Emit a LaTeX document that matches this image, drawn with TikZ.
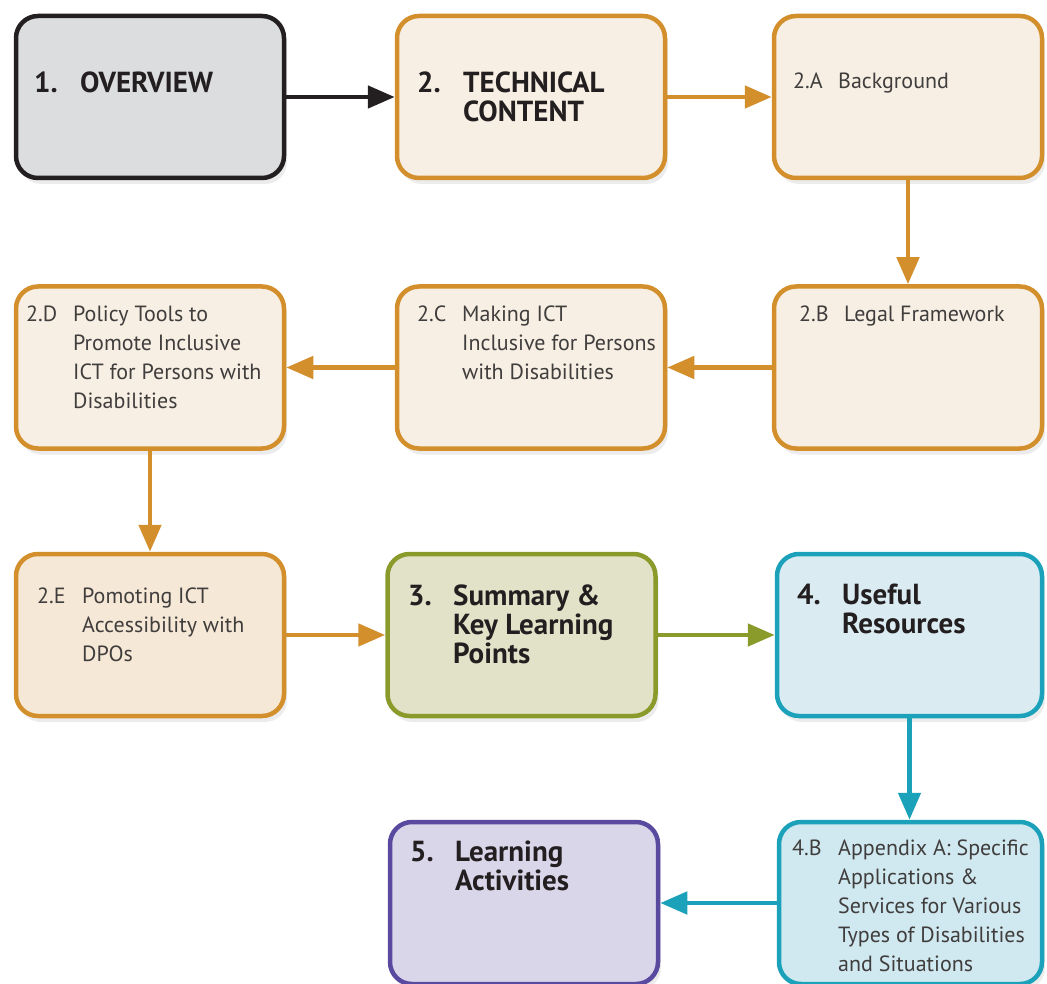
\documentclass[tikz,border=0pt]{standalone}
\usepackage{fontspec}
\setmainfont{PT Sans}
\usetikzlibrary{arrows.meta,shadows}
\definecolor{ink}{HTML}{231F20}
\definecolor{subink}{HTML}{403D3D}
\definecolor{ovfill}{HTML}{DCDDDF}
\definecolor{ordraw}{HTML}{D38F2C}
\definecolor{orfill}{HTML}{F7EFE3}
\definecolor{orfillb}{HTML}{F6E8D6}
\definecolor{grdraw}{HTML}{8A9A2B}
\definecolor{grfill}{HTML}{E1E2C8}
\definecolor{tedraw}{HTML}{1BA2BA}
\definecolor{tefill}{HTML}{DAEBF2}
\definecolor{tefillb}{HTML}{D0E8EF}
\definecolor{pudraw}{HTML}{5A4A9F}
\definecolor{pufill}{HTML}{DAD6EA}
\newcommand\boxtext[3]{\parbox[t]{300pt}{\hangindent=#1\hangafter=1\noindent\makebox[#1][l]{#2}#3}}
\tikzset{
  box/.style={draw, rounded corners=22pt, line width=4.5pt, minimum width=268pt,
    minimum height=162pt, inner sep=0pt,
    drop shadow={opacity=0.15, shadow xshift=3pt, shadow yshift=-6pt}},
  head/.style={anchor=base west, inner sep=0pt, text=ink,
    font=\fontsize{29}{29}\selectfont\bfseries},
  subt/.style={anchor=base west, inner sep=0pt, text=subink,
    font=\fontsize{22}{29}\selectfont},
  conn/.style={line width=4.8pt, -{Triangle[length=27pt,width=22pt]}}
}
\begin{document}
\begin{tikzpicture}[x=1pt,y=-1pt]
\useasboundingbox (0,0) rectangle (1047,984);
% boxes
\node[box, draw=ink, fill=ovfill] (n1) at (150,97) {};
\node[box, draw=ordraw, fill=orfill] (n2) at (531,97) {};
\node[box, draw=ordraw, fill=orfill] (n2A) at (908,97) {};
\node[box, draw=ordraw, fill=orfill] (n2D) at (150,367.5) {};
\node[box, draw=ordraw, fill=orfill] (n2C) at (531,367.5) {};
\node[box, draw=ordraw, fill=orfill] (n2B) at (908,367.5) {};
\node[box, draw=ordraw, fill=orfillb] (n2E) at (150,635) {};
\node[box, draw=grdraw, fill=grfill] (n3) at (521.5,635) {};
\node[box, draw=tedraw, fill=tefill, minimum width=265pt] (n4) at (909.5,635) {};
\node[box, draw=pudraw, fill=pufill] (n5) at (524,903) {};
\node[box, draw=tedraw, fill=tefillb, minimum width=263pt] (n4B) at (910.5,903) {};
% texts
\node[head] (t1) at (34,93) {\boxtext{46pt}{1.}{OVERVIEW}};
\node[head] (t2) at (417,93) {\boxtext{46pt}{2.}{TECHNICAL\\CONTENT}};
\node[subt] (t2A) at (793,89) {\boxtext{45pt}{2.A}{Background}};
\node[subt] (t2D) at (26,322) {\boxtext{47pt}{2.D}{Policy Tools to\\Promote Inclusive\\ICT for Persons with\\Disabilities}};
\node[subt] (t2C) at (417,322) {\boxtext{45pt}{2.C}{Making ICT\\Inclusive for Persons\\with Disabilities}};
\node[subt] (t2B) at (799,322) {\boxtext{45pt}{2.B}{Legal Framework}};
\node[subt] (t2E) at (37,603) {\boxtext{45pt}{2.E}{Pomoting ICT\\Accessibility with\\DPOs}};
\node[head] (t3) at (408,605) {\boxtext{45pt}{3.}{Summary \&\\Key Learning\\Points}};
\node[head] (t4) at (797,604) {\boxtext{45pt}{4.}{Useful\\Resources}};
\node[head] (t5) at (410,861) {\boxtext{45pt}{5.}{Learning\\Activities}};
\node[subt] (t4B) at (792,855) {\boxtext{46pt}{4.B}{Appendix A: Specific\\Applications \&\\Services for Various\\Types of Disabilities\\and Situations}};
% connectors
\draw[conn, ink] (n1.east) -- (n2.west);
\draw[conn, ordraw] (n2.east) -- (n2A.west);
\draw[conn, ordraw] (n2A.south) -- (n2B.north);
\draw[conn, ordraw] (n2B.west) -- (n2C.east);
\draw[conn, ordraw] (n2C.west) -- (n2D.east);
\draw[conn, ordraw] (n2D.south) -- (n2E.north);
\draw[conn, ordraw] (n2E.east) -- (n3.west);
\draw[conn, grdraw] (n3.east) -- (n4.west);
\draw[conn, tedraw] (n4.south) -- (n4.south |- n4B.north);
\draw[conn, tedraw] (n4B.west) -- (n5.east);
\end{tikzpicture}
\end{document}
